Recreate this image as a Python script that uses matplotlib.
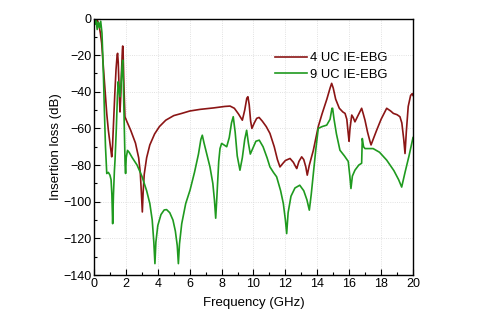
import matplotlib
matplotlib.use("Agg")
import matplotlib.pyplot as plt
from matplotlib.ticker import MultipleLocator

plt.rcParams['font.family'] = ['Liberation Sans', 'DejaVu Sans']

# 4 UC IE-EBG
f4 = [0.0, 0.08, 0.15, 0.22, 0.3, 0.4, 0.48, 0.6, 0.7, 0.8, 0.9, 1.0, 1.06, 1.11, 1.16, 1.22,
      1.3, 1.38, 1.45, 1.48, 1.52, 1.58, 1.63, 1.68, 1.73, 1.78, 1.8, 1.83, 1.88, 1.94, 2.05,
      2.3, 2.6, 2.8, 2.9, 2.97, 3.03, 3.08, 3.15, 3.3, 3.5, 3.8, 4.1, 4.5, 5.0, 5.5, 6.0, 6.65,
      7.5, 8.2, 8.53, 8.8, 9.05, 9.3, 9.45, 9.58, 9.65, 9.73, 9.82, 9.9, 10.05, 10.2, 10.35,
      10.55, 10.8, 11.03, 11.3, 11.5, 11.66, 11.85, 12.0, 12.29, 12.5, 12.65, 12.71, 12.85,
      13.02, 13.15, 13.28, 13.37, 13.5, 13.75, 14.06, 14.3, 14.6, 14.8, 14.9, 15.0, 15.15,
      15.38, 15.6, 15.74, 15.85, 15.93, 15.99, 16.05, 16.16, 16.25, 16.36, 16.55, 16.78,
      16.88, 16.99, 17.15, 17.3, 17.37, 17.5, 17.72, 18.0, 18.35, 18.6, 18.77, 19.0, 19.18,
      19.3, 19.42, 19.5, 19.58, 19.7, 19.85, 19.95, 20.0]
db4 = [-2, -0.8, -0.3, -1.2, -3, -8, -13.4, -28, -40, -52, -61, -68, -72, -75.5, -70, -58,
       -42, -28, -20, -19, -24, -40, -51, -42, -28, -17, -15, -20, -38, -53.6, -56,
       -61, -68, -76, -84, -95, -105.6, -95, -85, -76, -69, -63, -59, -55.5, -53, -51.8, -50.5, -49.6,
       -48.8, -48, -47.8, -49, -52, -55.5, -50, -43.5, -42.7, -47, -56, -60, -57, -54.5, -54,
       -56, -59, -62.7, -70, -77, -81, -79, -77.5, -76.4, -78.5, -81, -81.9, -78,
       -75.5, -77, -81, -85.5, -80, -72, -59, -52, -44, -38, -35.4, -38, -44,
       -49, -51, -51.8, -55, -62, -67, -60, -52.7, -54, -56.4, -53, -49,
       -52, -55.5, -62, -67, -69, -66, -61, -55, -49, -50.5, -51.8, -52.5, -53.6,
       -57, -66, -73.7, -62, -48, -42, -41, -42]

# 9 UC IE-EBG
f9 = [0.0, 0.04, 0.08, 0.13, 0.2, 0.27, 0.35, 0.42, 0.5, 0.55, 0.6, 0.65, 0.72, 0.8, 0.9,
      1.0, 1.07, 1.12, 1.17, 1.22, 1.28, 1.32, 1.4, 1.47, 1.52, 1.57, 1.63, 1.7, 1.76, 1.8,
      1.84, 1.9, 1.95, 1.98, 2.02, 2.1, 2.2, 2.4, 2.7, 3.0, 3.3, 3.5, 3.65, 3.75, 3.82, 3.88,
      4.0, 4.2, 4.4, 4.55, 4.75, 4.95, 5.1, 5.22, 5.29, 5.36, 5.5, 5.75, 6.02, 6.3, 6.55, 6.7,
      6.79, 6.9, 7.1, 7.27, 7.45, 7.55, 7.63, 7.7, 7.82, 7.9, 8.0, 8.15, 8.32, 8.48, 8.62,
      8.73, 8.85, 8.98, 9.15, 9.3, 9.45, 9.57, 9.68, 9.8, 9.95, 10.15, 10.36, 10.6, 10.85,
      11.03, 11.25, 11.45, 11.7, 11.87, 12.0, 12.08, 12.17, 12.35, 12.6, 12.9, 13.15, 13.35,
      13.5, 13.62, 13.75, 13.9, 14.06, 14.3, 14.59, 14.8, 14.92, 14.96, 15.05, 15.2, 15.42,
      15.7, 15.94, 16.04, 16.11, 16.2, 16.36, 16.6, 16.78, 16.82, 16.9, 16.99, 17.5, 17.9,
      18.35, 18.8, 19.1, 19.29, 19.5, 19.75, 19.97, 20.0]
db9 = [-3, -1.5, -3, -1, -6, -2, -5, -1.5, -8, -20, -34, -50, -70, -84.6, -84,
       -85.5, -88, -96, -112, -96, -83, -77, -60, -42, -34.5, -39, -42.7, -35, -26, -22.7,
       -35, -60, -80, -84.6, -76, -72, -73, -76, -80, -86, -94, -101, -110, -122, -133.8, -122,
       -113, -107, -104.5, -104.3, -106, -110, -116, -124, -133.8, -123, -112, -101, -93.7, -84, -74, -66,
       -63.7, -68, -75, -81, -90, -99, -109, -98, -78, -71, -68.2, -69, -70, -65, -57,
       -53.6, -62, -75, -82.8, -76, -66, -61, -68, -74, -71, -67, -66.4, -70, -76,
       -81, -84, -86.4, -94, -101, -110, -117.4, -106, -97, -92.5, -91, -94, -99,
       -104.6, -96, -85, -72, -60, -59, -58.2, -55, -49, -49, -55, -63, -71.9,
       -75, -78, -86, -92.8, -86, -82.8, -80, -79, -65.5, -70, -71, -71, -73,
       -77.3, -83, -88, -92, -84, -75, -66.4, -65]

labels = ['4 UC IE-EBG', '9 UC IE-EBG']
colors = ['#8b1515', '#1f9a1f']

fig = plt.figure(figsize=(5.03, 3.2), dpi=100)
ax = fig.add_axes([94/503, 1-275/320, 319/503, (275-18.5)/320])

ax.plot(f4, db4, color=colors[0], lw=1.2, label=labels[0])
ax.plot(f9, db9, color=colors[1], lw=1.2, label=labels[1])

ax.set_xlim(0, 20)
ax.set_ylim(-140, 0)
ax.xaxis.set_major_locator(MultipleLocator(2))
ax.xaxis.set_minor_locator(MultipleLocator(1))
ax.yaxis.set_major_locator(MultipleLocator(20))
ax.yaxis.set_minor_locator(MultipleLocator(10))
ax.tick_params(which='both', direction='in', top=False, right=False, labelsize=9, pad=2)
ax.tick_params(which='major', length=4, width=0.8)
ax.tick_params(which='minor', length=2, width=0.8)
ax.grid(True, which='major', color='#d8d8d8', linestyle=':', linewidth=0.6)
for s in ax.spines.values():
    s.set_linewidth(1.0)

ax.set_xlabel('Frequency (GHz)', fontsize=9.5, labelpad=5)
ax.set_ylabel('Insertion loss (dB)', fontsize=9.5, labelpad=1)

ax.legend(loc='upper left', bbox_to_anchor=(0.567, 0.868), frameon=False, fontsize=9.4,
          handlelength=2.45, handletextpad=0.25, labelspacing=0.32, borderpad=0, borderaxespad=0)

fig.savefig('out.png', dpi=100)
